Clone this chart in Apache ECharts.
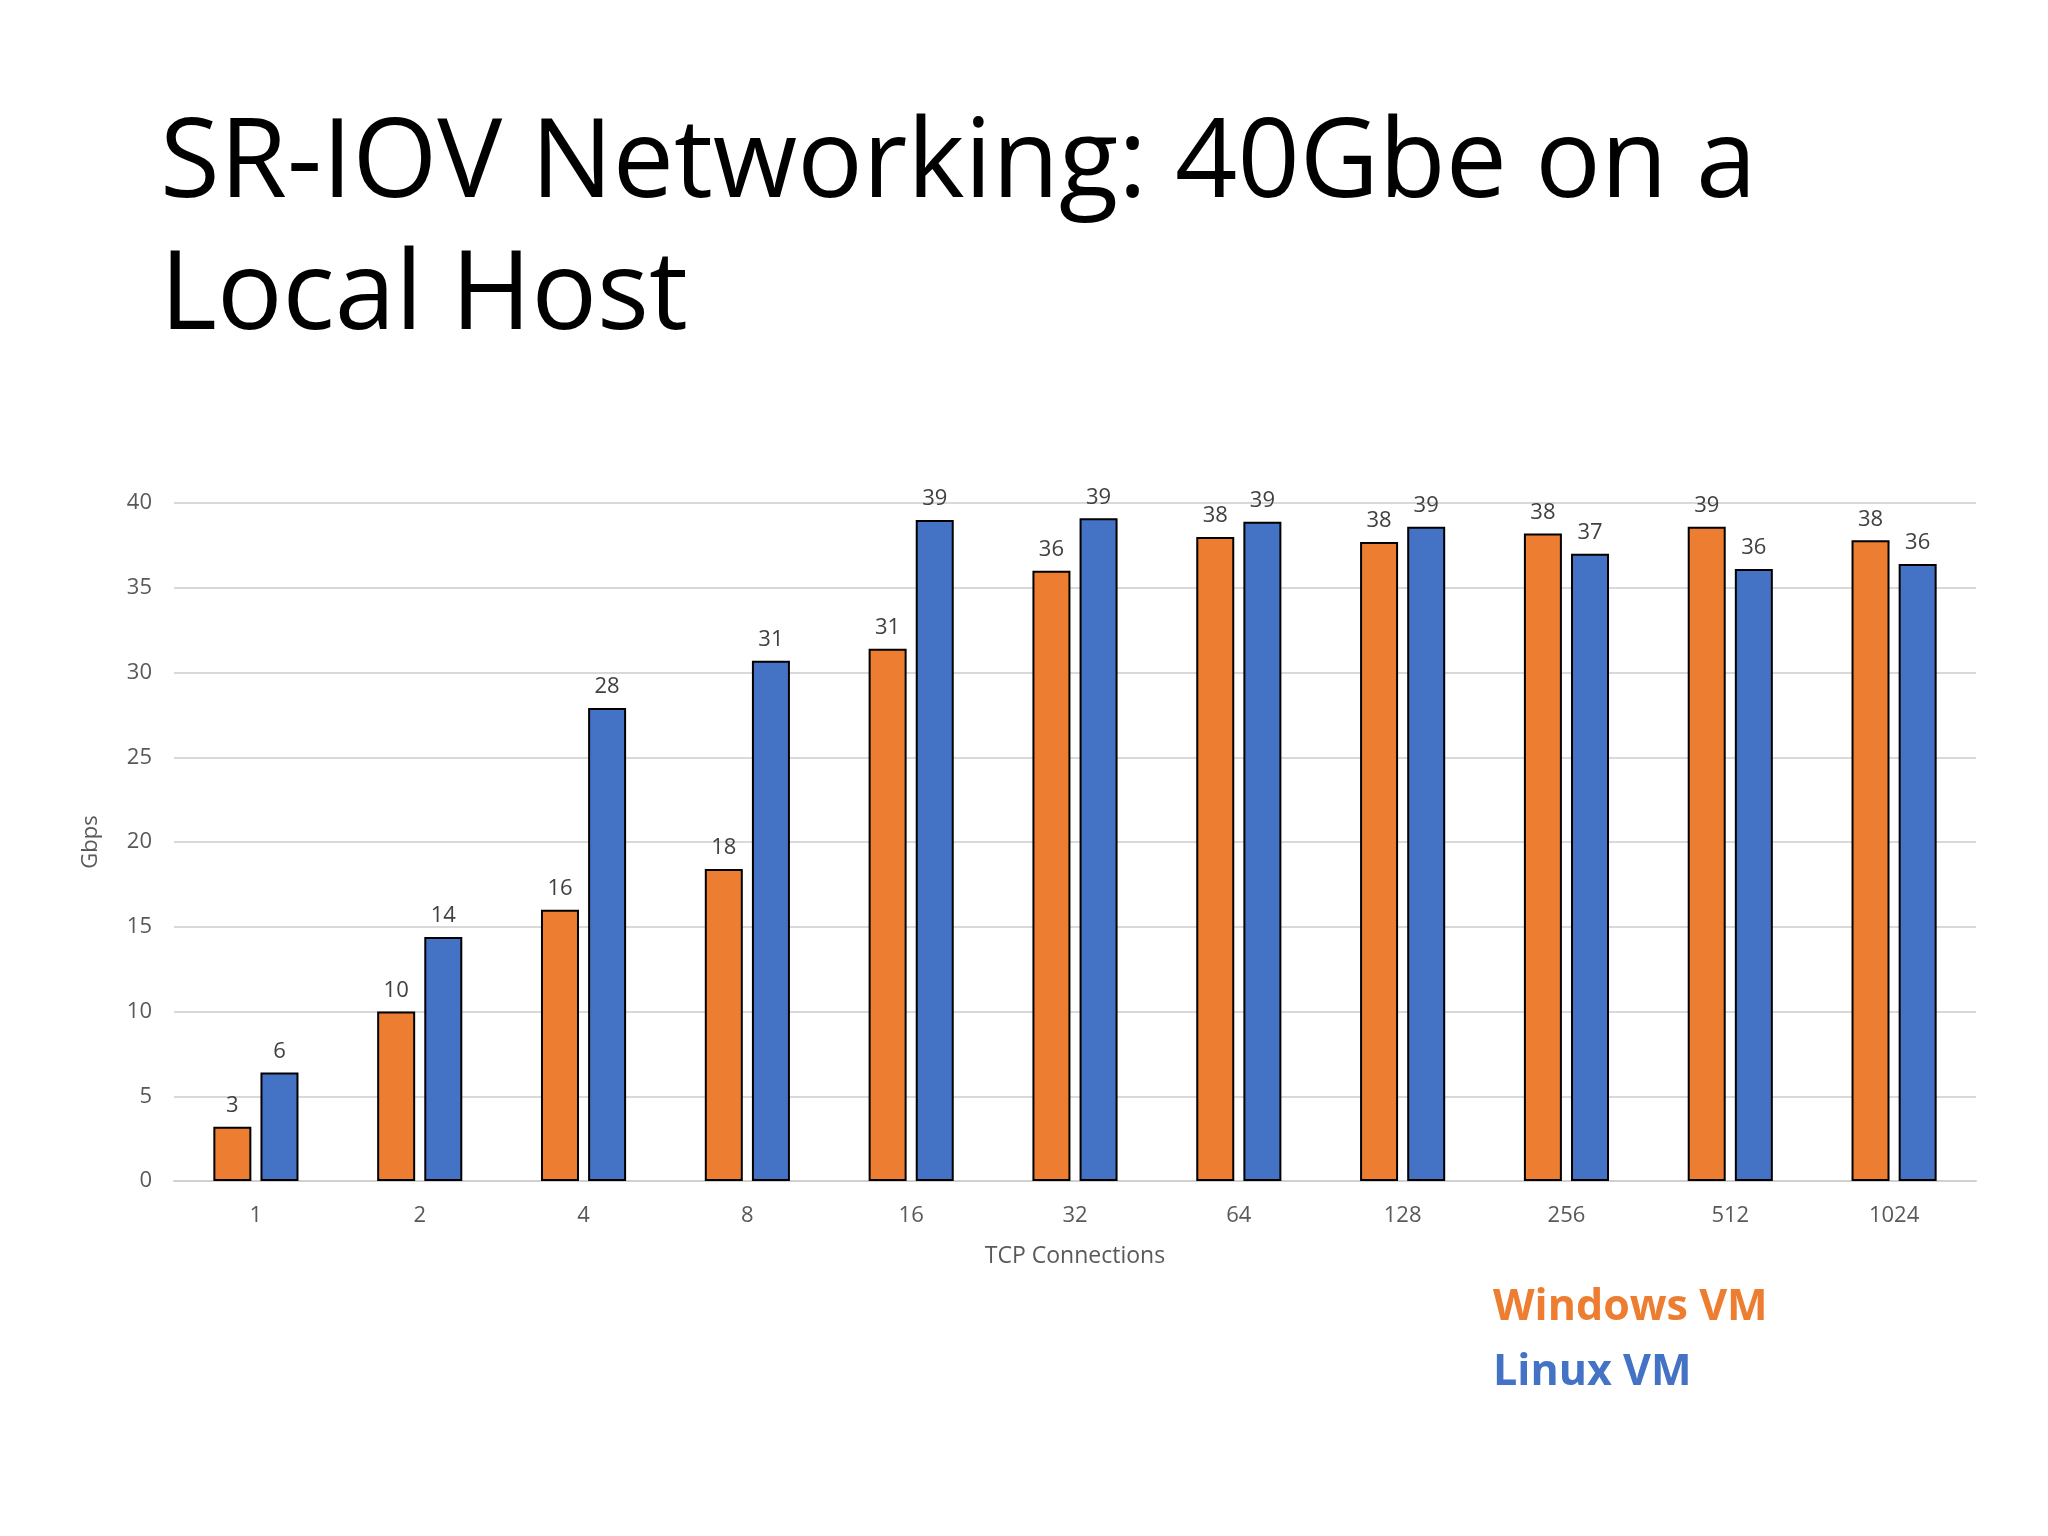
<!DOCTYPE html>
<html>
<head>
<meta charset="utf-8">
<script src="https://cdn.jsdelivr.net/npm/echarts@6/dist/echarts.min.js"></script>
<style>
  html, body { margin: 0; padding: 0; background: #fff; }
  #chart { width: 2048px; height: 1536px; }
</style>
</head>
<body>
<div id="chart"></div>
<script>
const connections = ['1', '2', '4', '8', '16', '32', '64', '128', '256', '512', '1024'];
const windowsVm = [3.2, 10, 16, 18.4, 31.4, 36, 38, 37.7, 38.2, 38.6, 37.8];
const linuxVm = [6.4, 14.4, 27.9, 30.7, 39, 39.1, 38.9, 38.6, 37, 36.1, 36.4];

const font = '"Open Sans", "Noto Sans", sans-serif';
const label = {
  show: true,
  position: 'top',
  distance: 10,
  fontFamily: font,
  fontSize: 22,
  color: '#404040',
  formatter: p => Math.round(p.value)
};

echarts.init(document.getElementById('chart')).setOption({
  animation: false,
  backgroundColor: '#fff',
  grid: { left: 174, right: 72, top: 503, bottom: 355 },
  graphic: [
    { type: 'text', left: 160, top: 100,
      style: { text: 'SR-IOV Networking: 40Gbe on a\nLocal Host', font: '400 109px ' + font, fill: '#000', lineHeight: 132 } },
    { type: 'text', left: 1493, top: 1286,
      style: { text: 'Windows VM', font: 'bold 43px ' + font, fill: '#ED7D31' } },
    { type: 'text', left: 1493, top: 1351,
      style: { text: 'Linux VM', font: 'bold 43px ' + font, fill: '#4472C4' } }
  ],
  xAxis: {
    type: 'category',
    data: connections,
    name: 'TCP Connections',
    nameLocation: 'middle',
    nameGap: 64,
    nameTextStyle: { fontFamily: font, fontSize: 23, color: '#595959' },
    axisLine: { lineStyle: { color: '#d0d0d0', width: 2 } },
    axisTick: { show: false },
    axisLabel: { fontFamily: font, fontSize: 22, color: '#595959', margin: 24 }
  },
  yAxis: {
    type: 'value',
    min: 0, max: 40, interval: 5,
    name: 'Gbps',
    nameLocation: 'middle',
    nameGap: 72,
    nameTextStyle: { fontFamily: font, fontSize: 22, color: '#595959' },
    axisLabel: { fontFamily: font, fontSize: 22, color: '#595959', margin: 22 },
    splitLine: { lineStyle: { color: '#d9d9d9', width: 2 } }
  },
  series: [
    { name: 'Windows VM', type: 'bar', data: windowsVm, barWidth: 38, barGap: '24%',
      itemStyle: { color: '#ED7D31', borderColor: '#000', borderWidth: 2 }, label },
    { name: 'Linux VM', type: 'bar', data: linuxVm, barWidth: 38,
      itemStyle: { color: '#4472C4', borderColor: '#000', borderWidth: 2 }, label }
  ]
});
</script>
</body>
</html>
